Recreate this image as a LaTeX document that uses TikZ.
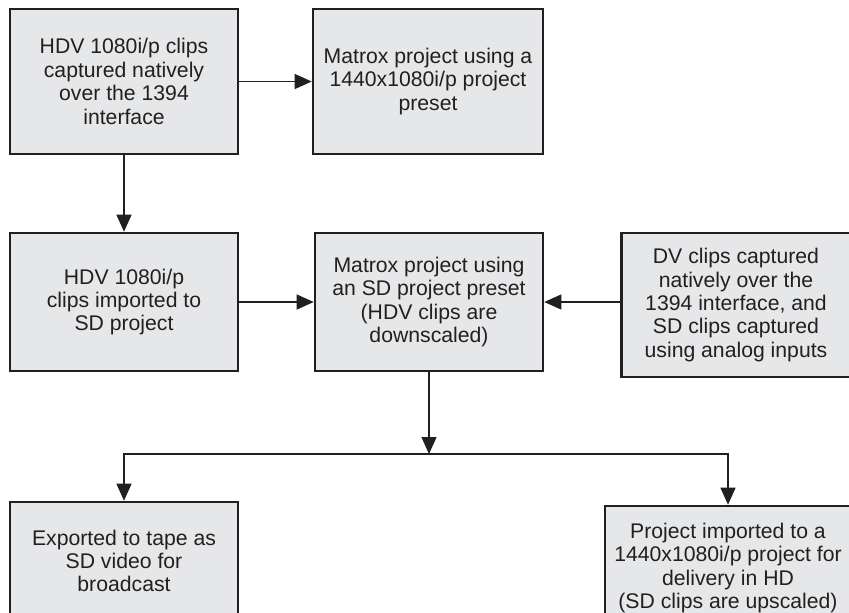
\documentclass[tikz,border=0pt]{standalone}
\usepackage{fontspec}
\setmainfont{Liberation Sans}
\usetikzlibrary{arrows.meta}

\definecolor{boxgray}{HTML}{E6E7E8}
\definecolor{ink}{HTML}{231F20}

\begin{document}
\begin{tikzpicture}[x=1pt, y=-1pt,
    box/.style={draw=ink, line width=2.6pt, fill=boxgray, text=ink, align=center,
        inner sep=0pt, font=\fontsize{21.2}{23.4}\selectfont},
    flow/.style={draw=ink, line width=1.3pt},
    >={Triangle[length=17pt, width=15pt]}]
    \useasboundingbox (0, 0) rectangle (849, 613);
    \clip (0, 0) rectangle (849, 613);

    % Top row
    \node[box, minimum width=228, minimum height=145] (hdvcap) at (124, 81.5)
        {HDV 1080i/p clips\\captured natively\\over the 1394\\interface};
    \node[box, minimum width=230, minimum height=145] (hdproj) at (428, 81.5)
        {Matrox project using a\\1440x1080i/p project\\preset};

    % Middle row
    \node[box, minimum width=228, minimum height=138] (hdvimp) at (124, 302)
        {HDV 1080i/p\\clips imported to\\SD project};
    \node[box, minimum width=228, minimum height=138] (sdproj) at (429, 302)
        {Matrox project using\\an SD project preset\\(HDV clips are\\downscaled)};
    \node[box, minimum width=229, minimum height=144] (dvcap) at (736, 305)
        {DV clips captured\\natively over the\\1394 interface, and\\SD clips captured\\using analog inputs};

    % Bottom row
    \node[box, minimum width=228, minimum height=118] (tape) at (124, 561)
        {Exported to tape as\\SD video for\\broadcast};
    \node[box, minimum width=246, minimum height=124] (hdout) at (728, 568)
        {Project imported to a\\1440x1080i/p project for\\delivery in HD\\(SD clips are upscaled)};

    % Connectors
    \draw[flow, ->] (hdvcap) -- (hdproj);
    \draw[flow, ->] (hdvcap) -- (hdvimp);
    \draw[flow, ->] (hdvimp) -- (sdproj);
    \draw[flow, ->] (dvcap.west |- sdproj.east) -- (sdproj.east);

    % The split
    \coordinate (split) at (429, 454);
    \draw[flow, ->] (sdproj.south) -- (split);
    \draw[flow, ->] (split) -| (tape.north);
    \draw[flow, ->] (split) -| (hdout.north);
\end{tikzpicture}
\end{document}
